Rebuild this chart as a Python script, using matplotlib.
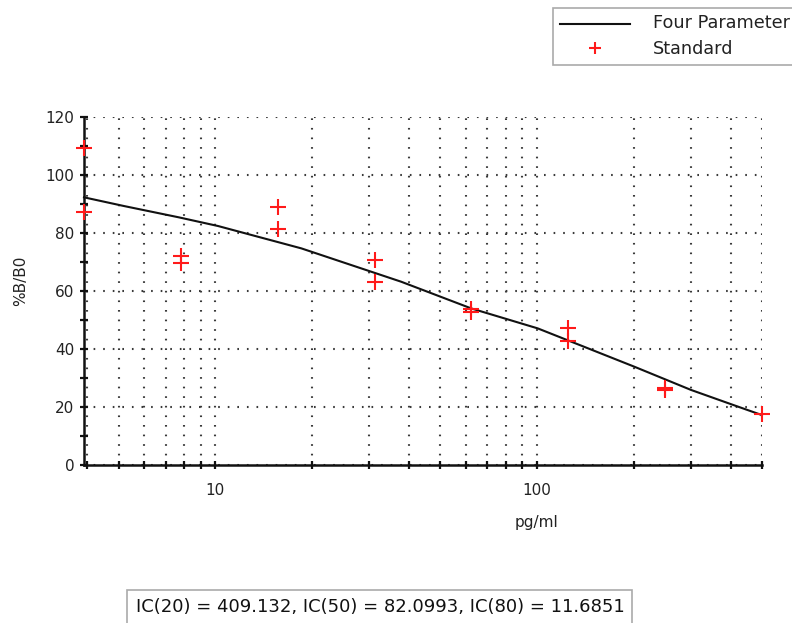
import matplotlib
matplotlib.use("Agg")
import matplotlib.pyplot as plt
from matplotlib.lines import Line2D
from matplotlib.patches import Rectangle
from matplotlib.ticker import LogLocator, MultipleLocator, NullFormatter, FixedLocator, FixedFormatter

plt.rcParams['font.family'] = ['DejaVu Sans']

# Standard concentrations (pg/ml) and measured %B/B0, duplicates per level
std_conc = [3.906, 3.906, 7.8125, 7.8125, 15.625, 15.625, 31.25, 31.25,
            62.5, 62.5, 125, 125, 250, 250, 500]
std_pct = [109.3, 87.2, 72.0, 69.7, 89.0, 81.4, 70.7, 63.1,
           53.8, 52.6, 47.2, 42.8, 26.5, 26.0, 17.6]

# Four parameter fit curve, sampled
fit_conc = [3.906, 5.2, 7.7, 10.2, 18.5, 37.8, 62.4, 100.5, 200.5, 300.6, 400, 500]
fit_pct = [92.3, 89.3, 85.4, 82.4, 74.7, 63.2, 54.0, 47.1, 33.9, 25.9, 21.0, 17.2]

x_limits = [3.906, 500]
y_limits = [0, 120]
ic_text = "IC(20) = 409.132, IC(50) = 82.0993, IC(80) = 11.6851"

W, H = 792, 623
fig = plt.figure(figsize=(W / 100, H / 100), dpi=100)
fig.patch.set_facecolor('white')
ax = fig.add_axes([84 / W, 1 - 465 / H, (762 - 84) / W, (465 - 117) / H])

ax.set_xscale('log')
ax.set_xlim(*x_limits)
ax.set_ylim(*y_limits)

grid_style = dict(color='#3a3a3a', linestyle=(0, (0.8, 3.8)), linewidth=1.5)
ax.xaxis.set_major_locator(FixedLocator([10, 100]))
ax.xaxis.set_major_formatter(FixedFormatter(['10', '100']))
ax.xaxis.set_minor_locator(LogLocator(base=10, subs=range(2, 10)))
ax.xaxis.set_minor_formatter(NullFormatter())
ax.yaxis.set_major_locator(MultipleLocator(20))
ax.yaxis.set_minor_locator(MultipleLocator(10))
ax.grid(True, which='major', axis='both', **grid_style)
ax.grid(True, which='minor', axis='x', **grid_style)

for side in ('top', 'right'):
    ax.spines[side].set_visible(False)
for side in ('left', 'bottom'):
    ax.spines[side].set_linewidth(1.8)
    ax.spines[side].set_color('#111111')

ax.tick_params(which='both', direction='inout', length=6, width=1.6, color='#111111',
               labelsize=11, labelcolor='#222222')
ax.tick_params(axis='x', which='major', pad=10)
ax.tick_params(axis='y', which='major', pad=4)

ax.plot(fit_conc, fit_pct, color='#111111', linewidth=1.5, clip_on=False, zorder=3)
ax.plot(std_conc, std_pct, linestyle='none', marker='+', color='#ff1a1a',
        markersize=11, markeredgewidth=1.5, clip_on=False, zorder=4)

ax.set_xlabel('pg/ml', fontsize=11, color='#222222')
ax.set_ylabel('%B/B0', fontsize=11, color='#222222')
ax.xaxis.set_label_coords((536 - 84) / (762 - 84), -(522 - 465) / (465 - 117))
ax.yaxis.set_label_coords(-(84 - 21) / (762 - 84), (465 - 281) / (465 - 117))
ax.xaxis.label.set_va('center')
ax.yaxis.label.set_va('center')

# Legend box in the upper right corner
fig.patches.append(Rectangle((553 / W, 1 - 65 / H), 260 / W, 57 / H,
                             transform=fig.transFigure, facecolor='white',
                             edgecolor='#aaaaaa', linewidth=1.2))
fig.lines.append(Line2D([560 / W, 630 / W], [1 - 24 / H, 1 - 24 / H],
                        transform=fig.transFigure, color='#111111', linewidth=1.5))
fig.lines.append(Line2D([595 / W], [1 - 48 / H], transform=fig.transFigure,
                        marker='+', color='#ff1a1a', markersize=9, markeredgewidth=1.5))
fig.text(653 / W, 1 - 23 / H, 'Four Parameter', fontsize=12.7, color='#222222',
         va='center', ha='left')
fig.text(653 / W, 1 - 49 / H, 'Standard', fontsize=12.7, color='#222222',
         va='center', ha='left')

# IC summary box at the bottom
fig.patches.append(Rectangle((127 / W, -0.01), (632 - 127) / W, 0.01 + (623 - 590) / H,
                             transform=fig.transFigure, facecolor='white',
                             edgecolor='#aaaaaa', linewidth=1.2))
fig.text(380 / W, 1 - 607 / H, ic_text, fontsize=13, color='#111111',
         ha='center', va='center')

fig.savefig('out.png', dpi=100)
